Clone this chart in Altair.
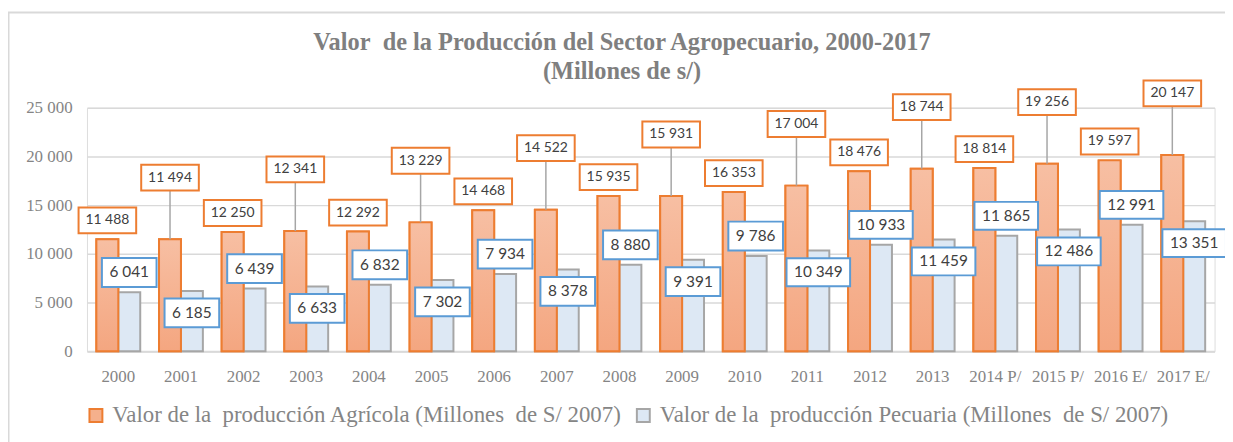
import altair as alt
import pandas as pd

years = ["2000", "2001", "2002", "2003", "2004", "2005", "2006", "2007", "2008",
         "2009", "2010", "2011", "2012", "2013", "2014 P/", "2015 P/", "2016 E/", "2017 E/"]
agricola = [11488, 11494, 12250, 12341, 12292, 13229, 14468, 14522, 15935,
            15931, 16353, 17004, 18476, 18744, 18814, 19256, 19597, 20147]
pecuaria = [6041, 6185, 6439, 6633, 6832, 7302, 7934, 8378, 8880,
            9391, 9786, 10349, 10933, 11459, 11865, 12486, 12991, 13351]
series_names = ["Valor de la\u00a0 producción Agrícola (Millones\u00a0 de S/ 2007)",
                "Valor de la\u00a0 producción Pecuaria (Millones\u00a0 de S/ 2007)"]
y_ticks = [0, 5000, 10000, 15000, 20000, 25000]
title_lines = ["Valor\u00a0 de la Producción del Sector Agropecuario, 2000-2017", "(Millones de s/)"]

rows = []
for i, y in enumerate(years):
    rows.append({"year": y, "idx": i, "series": series_names[0], "value": agricola[i]})
    rows.append({"year": y, "idx": i, "series": series_names[1], "value": pecuaria[i]})
df = pd.DataFrame(rows)

AGRI = series_names[0]
PEC = series_names[1]
SERIF = "Liberation Serif"
GRAY = "#858585"
LBL = "replace(format(datum.value, ','), ',', ' ')"
PX = 25000 / 245.0  # data units per pixel

x_enc = alt.X("year:N", sort=years,
              scale=alt.Scale(paddingInner=0.3, paddingOuter=0.15),
              axis=alt.Axis(title=None, labelAngle=0, ticks=False, domainColor="#d9d9d9",
                            domainWidth=2, labelFont=SERIF, labelFontSize=17,
                            labelColor=GRAY, labelPadding=18))
y_enc = alt.Y("value:Q", scale=alt.Scale(domain=[0, 25000], nice=False),
              axis=alt.Axis(title=None, values=y_ticks, domain=False, ticks=False,
                            labelExpr=LBL, labelFont=SERIF, labelFontSize=17,
                            labelColor=GRAY, labelPadding=15,
                            gridColor="#d9d9d9", gridWidth=1.5))
xoff = alt.XOffset("series:N", sort=series_names,
                   scale=alt.Scale(domain=series_names, paddingInner=0, paddingOuter=0))

base = alt.Chart(df)

frame = alt.Chart(alt.Data(values=[{}])).mark_rect(
    filled=False, stroke="#d9d9d9", strokeWidth=2
).encode(x=alt.value(-79), x2=alt.value(1170), y=alt.value(-96), y2=alt.value(350))

legend_def = alt.Legend(title=None, orient="none", legendX=-2.5, legendY=298,
                        direction="horizontal", symbolType="square",
                        symbolSize=169, symbolStrokeWidth=2,
                        labelFont=SERIF, labelFontSize=23, labelColor=GRAY,
                        labelOffset=5, columnPadding=9, labelLimit=0)

bars = base.mark_bar(strokeWidth=2).encode(
    x=x_enc, xOffset=xoff, y=y_enc,
    fill=alt.Fill("series:N", sort=series_names,
                  scale=alt.Scale(domain=series_names, range=["#f5b08c", "#dde8f4"]),
                  legend=legend_def),
    stroke=alt.Stroke("series:N", sort=series_names,
                      scale=alt.Scale(domain=series_names, range=["#ed7d31", "#a6a6a6"]),
                      legend=legend_def),
)

grad = {"gradient": "linear", "x1": 0, "y1": 0, "x2": 0, "y2": 1,
        "stops": [{"offset": 0, "color": "#f7bfa3"}, {"offset": 1, "color": "#f4a680"}]}
grad_bars = base.transform_filter(alt.datum.series == AGRI).mark_bar(
    fill=grad, stroke="#ed7d31", strokeWidth=2
).encode(x=x_enc, xOffset=xoff, y="value:Q")

agri_base = base.transform_filter(alt.datum.series == AGRI).transform_calculate(
    ly=f"datum.idx % 2 == 1 ? datum.value + {62 * PX} : datum.value + {19 * PX}",
    lbl=LBL,
).transform_calculate(ly2=f"datum.ly - {13 * PX}")

leaders = agri_base.transform_filter("datum.idx % 2 == 1").mark_rule(
    color="#a6a6a6", strokeWidth=1.5, xOffset=-11
).encode(x="year:N", y="value:Q", y2="ly2:Q")

r_a = 26 / 58
agri_box = agri_base.mark_point(
    shape=f"M-1,-{r_a}L1,-{r_a}L1,{r_a}L-1,{r_a}Z", size=58 * 58, filled=True,
    fill="white", stroke="#ed7d31", strokeWidth=2, opacity=1, xOffset=-11
).encode(x="year:N", y="ly:Q")
agri_txt = agri_base.mark_text(
    font="Lato", fontSize=14, color="#404040", xOffset=-11, baseline="middle"
).encode(x="year:N", y="ly:Q", text="lbl:N")

pec_base = base.transform_filter(alt.datum.series == PEC).transform_calculate(
    ly=f"datum.idx % 2 == 0 ? datum.value + {20 * PX} : datum.value - {22 * PX}",
    lbl=LBL,
)
r_s = 29 / 55
r_b = 28 / 64
pec_box = pec_base.mark_point(
    filled=True, fill="white", stroke="#5b9bd5", strokeWidth=2, opacity=1, xOffset=11
).encode(
    x="year:N", y="ly:Q",
    shape=alt.condition("datum.value < 10000",
                        alt.value(f"M-1,-{r_s}L1,-{r_s}L1,{r_s}L-1,{r_s}Z"),
                        alt.value(f"M-1,-{r_b}L1,-{r_b}L1,{r_b}L-1,{r_b}Z")),
    size=alt.condition("datum.value < 10000", alt.value(55 * 55), alt.value(64 * 64)),
)
pec_txt = pec_base.mark_text(
    font="Lato", fontSize=15.5, color="#404040", xOffset=11, baseline="middle"
).encode(x="year:N", y="ly:Q", text="lbl:N")

chart = alt.layer(
    frame, bars, grad_bars, leaders, agri_box, agri_txt, pec_box, pec_txt
).resolve_scale(x="shared").properties(
    width=1135, height=245,
    title=alt.TitleParams(text=title_lines, font=SERIF, fontSize=24.5, fontWeight="bold",
                          color="#7f7f7f", anchor="middle", dx=-29, offset=-74, lineHeight=30),
    autosize=alt.AutoSizeParams(type="none"),
    padding={"left": 79.5, "top": 99, "right": 10.5, "bottom": 90},
).configure_view(stroke=None).configure(background="white")

chart.save("out.html", embed_options={"renderer": "svg", "actions": False})
